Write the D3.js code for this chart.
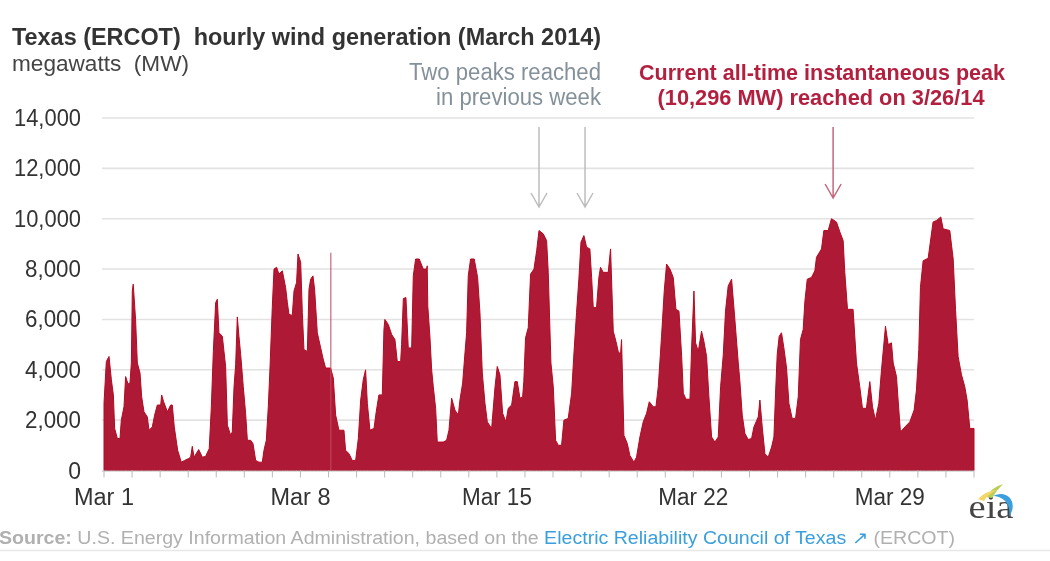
<!DOCTYPE html>
<html><head><meta charset="utf-8">
<script src="https://cdn.jsdelivr.net/npm/d3@7/dist/d3.min.js"></script>
<style>
html,body{margin:0;padding:0;background:#fff;overflow:hidden}
svg{display:block;filter:blur(0.6px)}
text{font-family:"Liberation Sans",Arial,sans-serif}
</style></head><body>
<svg id="c" width="1050" height="561"></svg>
<script>
// Readings taken along the top of the area: hours since Mar 1 00:00, and MW
const hoursA = [0,2,4.3,6.3,8,9.1,11.4,13.7,14.8,17.1,18.5,20.5,22.2,23.4,24.2,25,27,28.5,30.8,32.2,34.2,37,38.5,41.3,43.3,45.6,48.5,49.3,51,54.2,57,58.4,60.1,63,66.1,69,72.1,74.1,75.5,77,81,84.1,86.9,90,91.8,93.5,95.5,96.9,98.3,101.2,102.6,104,105.5,108.3,109.7,111.2,112.6,114,115.4,116.9,119.1,121.1,122.6,125.4,127.4,129.7,132.5,135.4,136.8,138.8,140.5,141.9,143.9,145.4,147.6,149.6,152.5,155.3,156.8,158.2,161,162.5,164.7,165.9,168.2,169.6,171,173.9,175.3,176.7,178.7,180.1,182.4,185.3,187.2,189.5,193.8,196.1,198.1,200.9,205.2,206.6,209.5,212.3,215.2,217.5,219.5,221.7,223.7,225.2,227.4,230.9,232.8,235.1,238];
const mwA = [2670,4330,4530,3600,3000,1670,1270,1270,2000,2530,3730,3440,3470,4270,7130,7400,6000,4270,3870,2930,2330,2130,1600,1730,2200,2600,2600,3000,2730,2330,2600,2600,1730,800,330,400,470,530,960,530,830,530,560,870,2530,4730,6670,6800,5470,5330,4730,4130,1800,1400,1530,3330,4200,6100,5330,4600,3330,2270,1200,1200,1070,400,330,330,800,1200,2530,4000,6470,8000,8070,7800,7930,7270,6670,6200,6160,7130,7470,8600,8270,6270,4800,4730,7200,7600,7730,7200,5470,4870,4470,4070,4070,3670,2200,1600,1600,800,670,400,400,1270,2800,3600,4000,2670,1600,1670,2330,3000,3000];
const hoursB = [239.4,240.2,243.1,246,248.8,250.8,253.7,254.5,256,258.2,260.2,263.1,264.5,266.5,269.6,273,275.9,276.4,276.9,278.7,280.2,281.6,283.6,285,287.3,290.1,293,295,297.3,300.1,303,304.4,306.7,308.7,310.1,311.5,313.5,316.6,319.5,321.5,323.5,325.8,327.8,331.5,334.3,336.3,338.6,340.9,343.7,345.7,348.6,351.4,353.4,355.7,358,359,360.5,362.8,364.8,367.7,370,372,375.6,378.5,379.9,382.2,384.2,386.2,388.5,391.3,393.3,397,399.9,401.9,404.1,406.1,407.9,410.4,412.7,415.5,417,418.4,421.2,423.2,424.6,426.9,431.2,433.2,435.5,437.8,440,441.8,442.6,444.6,447.5,449.7,453.2,455.4,458.3,461.1,464,466.3,469.7,472,474,476.8,479.1,481.1,484,486.8,489.1,491.7];
const mwB = [5600,6000,5800,5400,5200,4330,4330,5000,6830,6870,4870,4870,7730,8400,8400,8000,8000,8130,6530,5330,4000,3330,2470,1130,1130,1130,1200,1600,2870,2400,2200,2800,3470,4670,5470,7730,8400,8400,7670,6270,3870,2670,1930,1670,3270,4130,3800,2270,1930,2470,2600,3530,3530,2870,2930,3530,5270,5670,7800,8000,8730,9530,9400,9130,7870,4270,3330,1200,1000,1000,2000,2070,3070,4670,6270,7600,9070,9330,8870,8800,7670,6470,6470,7670,8070,7870,7870,8800,5530,5130,4670,4670,5200,1400,1070,600,330,530,1330,1930,2270,2730,2530,2530,3330,5330,7130,8200,8000,7670,6400,6330];
const hoursC = [494,495.4,497.7,501.1,502.5,504.5,505.9,508.2,511,513,515.3,517.3,519.6,522.4,525.3,527.3,529.6,531.5,533.8,536.7,539.5,542.4,543.8,545.8,548.1,550.9,553.8,555.8,559.5,560.9,562.9,565.2,568,570.9,572.9,574.3,575.7,577.4,579.4,581.4,583.7,585.7,588.5,591.4,593.7,595.6,597.9,599.4,601.4,605,607.9,609.3,613.6,615.6,619.3,622.1,626.4,629.3,632.1,633.5,635.8,640.6,643.5,646.3,648.6,652,654.9,657.2,659.7,662.6,664.9,668.3,670.6,673.4,674.9,677.7,679.1,681.1,684.9,689.1,692.8,694.8,696.8,698.2,700.5,704.8,709,711.9,715.6,717.6,723.3,726.2,728.2,730.4,733.3,736.1,738.1,740.4,744];
const mwC = [4530,3070,2830,2830,4870,7130,5070,4730,5530,5130,4530,2930,1330,1130,1330,3330,4600,6330,7330,7600,6000,4270,3530,2200,1470,1230,1270,1730,2130,2800,1730,670,530,930,1330,3070,4600,5330,5470,4870,4070,2670,2070,2070,2930,5200,5600,6730,7600,7670,7930,8470,8800,9530,9530,10000,9870,9470,9130,7870,6400,6400,4270,3330,2470,2470,3530,2530,2000,2670,4000,5730,5000,5070,4270,3730,2800,1530,1730,1930,2400,3200,4800,7270,8330,8430,9870,9930,10070,9600,9530,8400,6400,4530,3800,3330,2800,1670,1670];
const spikeHour = [194];
const spikeValue = [8650];
const yTicks = [0,2000,4000,6000,8000,10000,12000,14000];
const xTickDays = [0,7,14,21,28];
const xTickLabels = ["Mar 1","Mar 8","Mar 15","Mar 22","Mar 29"];
const arrowDays = [15.5,17.14];
const peakDay = [25.98];

const hours = [...hoursA,...hoursB,...hoursC];
const generation = [...mwA,...mwB,...mwC];
const svg = d3.select("#c");
const x = d3.scaleLinear().domain([0,31]).range([104,974]);
const y = d3.scaleLinear().domain([0,14000]).range([470.5,118]);
const RED="#ae1a36", EDGE="#b5081f", GRID="#e2e2e2", DARK="#333";

// grid
svg.append("g").selectAll("line").data(yTicks.slice(1)).join("line")
 .attr("x1",102).attr("x2",974).attr("y1",d=>y(d)).attr("y2",d=>y(d))
 .attr("stroke",GRID).attr("stroke-width",1.6);
// y labels
svg.append("g").selectAll("text").data(yTicks).join("text")
 .attr("x",81).attr("y",d=>y(d)+8).attr("text-anchor","end")
 .attr("font-size",23).attr("fill",DARK)
 .attr("textLength",d=>d===0?null:(d>=10000?67:56))
 .attr("lengthAdjust","spacingAndGlyphs")
 .text(d=>d3.format(",")(d));

// area
const area = d3.area().curve(d3.curveLinear)
 .x(d=>x(d.h/24)).y0(y(0)).y1(d=>y(d.v));
const pts = generation.map((v,i)=>({h:hours[i],v}));
svg.append("path").datum(pts).attr("d",area).attr("fill",RED)
 .attr("stroke",EDGE).attr("stroke-width",1).attr("stroke-linejoin","miter");
// one-hour spike
svg.append("g").selectAll("line").data(spikeHour).join("line")
 .attr("x1",d=>x(d/24)).attr("x2",d=>x(d/24))
 .attr("y1",y(0)).attr("y2",(d,i)=>y(spikeValue[i]))
 .attr("stroke","#c0485f").attr("stroke-width",1);

// baseline and daily ticks
svg.append("line").attr("x1",102).attr("x2",974).attr("y1",y(0)+0.5).attr("y2",y(0)+0.5)
 .attr("stroke","#bbb").attr("stroke-width",1);
svg.append("g").selectAll("line").data(d3.range(0,32)).join("line")
 .attr("x1",d=>x(d)).attr("x2",d=>x(d)).attr("y1",y(0)).attr("y2",y(0)+7)
 .attr("stroke","#bbb").attr("stroke-width",1);
svg.append("g").selectAll("text").data(xTickDays).join("text")
 .attr("x",d=>x(d)).attr("y",505).attr("text-anchor","middle")
 .attr("font-size",23.5).attr("fill",DARK)
 .attr("textLength",(d,i)=>i<2?60:70).attr("lengthAdjust","spacingAndGlyphs")
 .text((d,i)=>xTickLabels[i]);

// headings
svg.append("text").attr("x",12).attr("y",45).attr("font-size",23).attr("font-weight","bold").attr("fill",DARK)
 .attr("textLength",589).attr("lengthAdjust","spacingAndGlyphs")
 .style("white-space","pre")
 .text("Texas (ERCOT)  hourly wind generation (March 2014)");
svg.append("text").attr("x",12).attr("y",71).attr("font-size",22).attr("fill","#444")
 .attr("textLength",177).attr("lengthAdjust","spacingAndGlyphs")
 .style("white-space","pre")
 .text("megawatts  (MW)");

// annotations
const grayNote=["Two peaks reached","in previous week"];
svg.append("g").selectAll("text").data(grayNote).join("text")
 .attr("x",601).attr("y",(d,i)=>80+i*25).attr("text-anchor","end")
 .attr("font-size",23).attr("fill","#84919a")
 .attr("textLength",(d,i)=>i?165:192).attr("lengthAdjust","spacingAndGlyphs")
 .text(d=>d);
const redNote=["Current all-time instantaneous peak","(10,296 MW) reached on 3/26/14"];
svg.append("g").selectAll("text").data(redNote).join("text")
 .attr("x",(d,i)=>i?821:822).attr("y",(d,i)=>80+i*25).attr("text-anchor","middle")
 .attr("font-size",22).attr("font-weight","bold").attr("fill","#b3203f")
 .attr("textLength",(d,i)=>i?327:366).attr("lengthAdjust","spacingAndGlyphs")
 .text(d=>d);

// arrows
function arrow(px,top,tip,col){
 svg.append("path").attr("d",`M${px},${top}V${tip}M${px-8},${tip-14}L${px},${tip}L${px+8},${tip-14}`)
  .attr("fill","none").attr("stroke",col).attr("stroke-width",1.5);
}
arrowDays.forEach(d=>arrow(x(d),127,207,"#bdbdbd"));
peakDay.forEach(d=>arrow(x(d),127,198,"#c4687c"));

// source line
const src=svg.append("text").attr("x",-1).attr("y",544).attr("font-size",18).attr("fill","#b0b0b0")
 .attr("textLength",956).attr("lengthAdjust","spacingAndGlyphs");
src.append("tspan").attr("font-weight","bold").text("Source:");
src.append("tspan").text(" U.S. Energy Information Administration, based on the ");
src.append("tspan").attr("fill","#3a9fdc").text("Electric Reliability Council of Texas");
src.append("tspan").attr("fill","#3a9fdc").text(" \u2197");
src.append("tspan").text(" (ERCOT)");
svg.append("line").attr("x1",0).attr("x2",1050).attr("y1",550.5).attr("y2",550.5).attr("stroke","#e8e8e8").attr("stroke-width",1.5);

// eia mark
const logo=svg.append("g");
logo.append("text").attr("x",991).attr("y",518).attr("text-anchor","middle")
 .attr("font-size",34).attr("fill","#444")
 .attr("textLength",45).attr("lengthAdjust","spacingAndGlyphs").style("font-family","'Liberation Serif',serif").text("eia");
logo.append("path").attr("d","M986,497 Q992,487 1003,484 Q996,491 992,498Z").attr("fill","#b9cf5a");
logo.append("path").attr("d","M978,499 Q985,491 997,490 Q988,494 984,501Z").attr("fill","#f1d66a");
logo.append("path").attr("d","M993,496 Q1003,491 1010,498 Q1016,506 1009,517 Q1011,506 1004,500 Q999,496 993,496Z").attr("fill","#3a9fdc");
</script>
</body></html>
